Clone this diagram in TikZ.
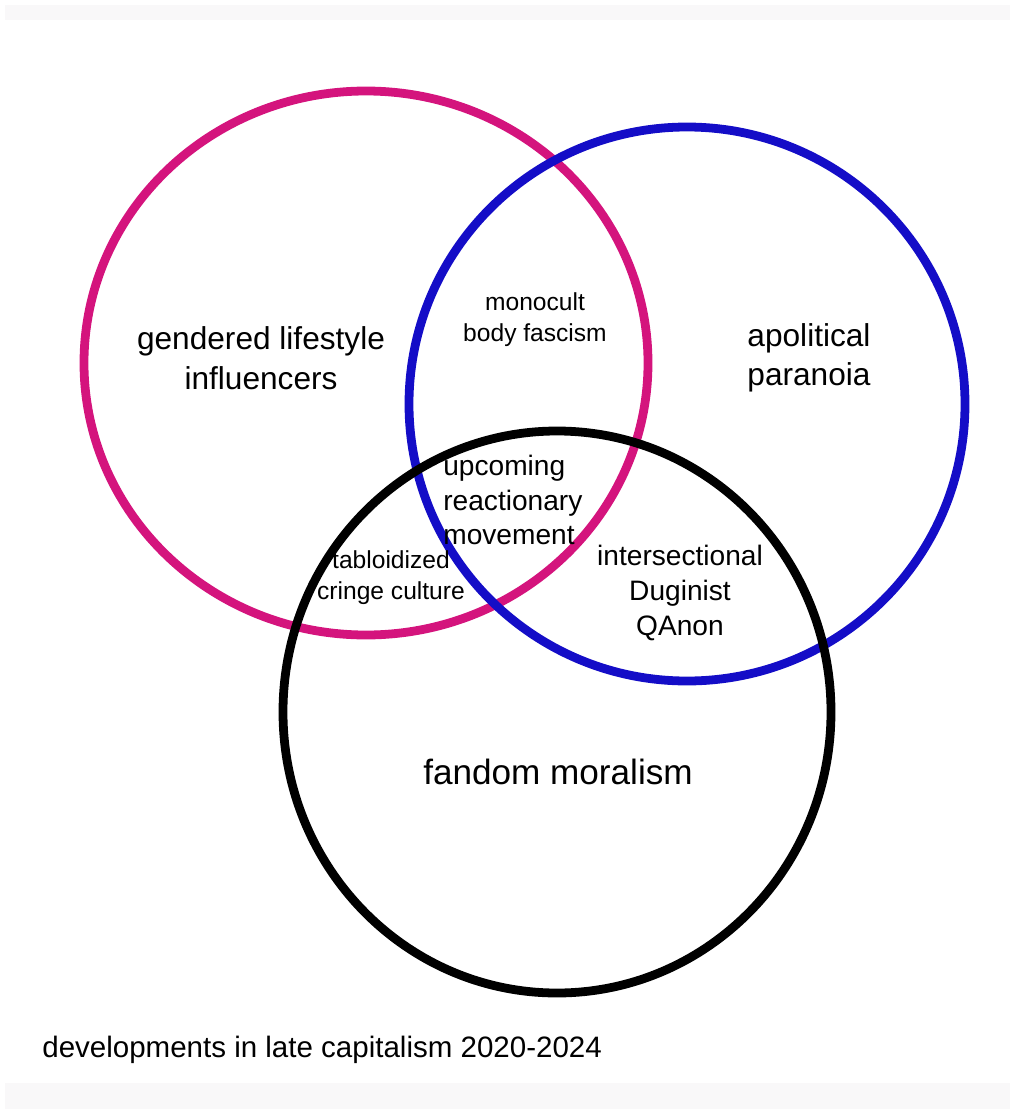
\documentclass[tikz,border=0pt]{standalone}
\usepackage{fontspec}
\setmainfont{Liberation Sans}
\definecolor{PinkClr}{rgb}{0.83,0.08,0.49}
\definecolor{BlueClr}{rgb}{0.08,0.05,0.78}
\definecolor{BandClr}{rgb}{0.975,0.972,0.975}
\tikzset{
  ring/.style={line width=5pt},
  biglabel/.style={align=center,font=\fontsize{18pt}{22.5pt}\selectfont},
  midlabel/.style={align=center,font=\fontsize{16pt}{19.8pt}\selectfont},
  smalllabel/.style={align=center,font=\fontsize{14pt}{17.5pt}\selectfont}
}

\begin{document}
\begin{tikzpicture}[x=0.02cm,y=-0.02cm,inner sep=0pt]
\useasboundingbox (0,0) rectangle (1010,1109);

\fill[BandClr] (5,5) rectangle (1010,20);
\fill[BandClr] (5,1083) rectangle (1010,1109);

\draw[ring,color=PinkClr] (366,363) ellipse [x radius=282,y radius=272];
\draw[ring,color=BlueClr] (687,404) ellipse [x radius=278,y radius=277];
\draw[ring,color=black] (557,712) ellipse [x radius=274,y radius=281];

\node[biglabel] (gendered) at (261,358) {gendered lifestyle\\influencers};
\node[biglabel] (apolitical) at (809,358) {apolitical\\paranoia};
\node[biglabel,font=\fontsize{20pt}{24pt}\selectfont] (fandom) at (558,772) {fandom moralism};

\node[smalllabel] (monocult) at (535,320) {monocult\\body fascism};
\node[smalllabel] (tabloid) at (391,578) {tabloidized\\cringe culture};
\node[midlabel,align=left,anchor=west] (upcoming) at (443,500) {upcoming\\reactionary\\movement};
\node[midlabel] (intersect) at (680,593) {intersectional\\Duginist\\QAnon};

\node[midlabel,font=\fontsize{16.8pt}{20pt}\selectfont,anchor=west] (caption) at (42,1050) {developments in late capitalism 2020-2024};

\end{tikzpicture}
\end{document}
